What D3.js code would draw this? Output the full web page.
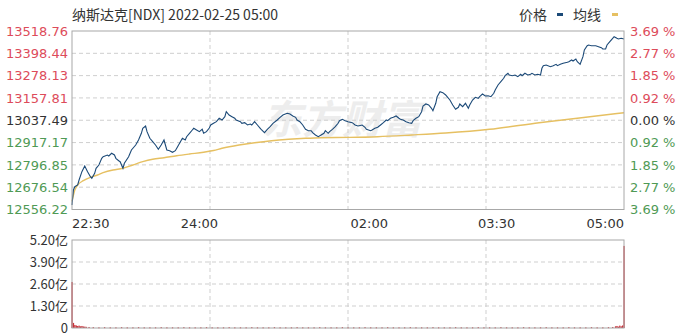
<!DOCTYPE html>
<html>
<head>
<meta charset="utf-8">
<script src="https://cdn.jsdelivr.net/npm/d3@7"></script>
<style>
  body { margin: 0; background: #fff; }
  svg { display: block; font-family: "Noto Sans CJK SC", "Noto Sans", sans-serif; }
</style>
</head>
<body>
<svg id="chart" width="687" height="336"></svg>
<script>
// ---- data ----
const title = "纳斯达克[NDX] 2022-02-25 05:00";
const prevClose = 13037.49;
const priceTicks = [13518.76, 13398.44, 13278.13, 13157.81, 13037.49, 12917.17, 12796.85, 12676.54, 12556.22];
const pctTicks = ["3.69%", "2.77%", "1.85%", "0.92%", "0.00%", "0.92%", "1.85%", "2.77%", "3.69%"];
const timeLabels = ["22:30", "24:00", "02:00", "03:30", "05:00"];
const timeLabelMinutes = [0, 90, 210, 300, 390];
const volTicks = [5.2, 3.9, 2.6, 1.3, 0];
const volTickLabels = ["5.20亿", "3.90亿", "2.60亿", "1.30亿", "0"];

// [minute after 22:30, price]
const price = [
  [0,12580.5],[1,12661.4],[2,12679.2],[4,12688.4],[5,12715.3],[7,12760.1],[9,12790.8],[11,12760.1],
  [13,12733.1],[14,12724.5],[16,12751.5],[17,12778.4],[19,12796.2],[21,12832.3],[22,12841.0],[25,12850.1],
  [26,12844.7],[28,12859.3],[30,12850.1],[31,12832.3],[33,12819.4],[34,12814.0],[36,12778.4],[37,12805.4],
  [40,12841.0],[42,12877.1],[45,12904.1],[47,12931.0],[49,12967.2],[50,12994.1],[52,13006.5],[53,12975.8],
  [55,12940.2],[57,12921.9],[59,12904.1],[61,12880.9],[63,12904.1],[65,12931.0],[66,12904.1],[67,12877.1],
  [69,12873.3],[71,12864.7],[73,12873.3],[74,12886.3],[76,12913.2],[78,12940.2],[80,12931.0],[81,12948.8],
  [83,12967.2],[85,12985.0],[86,12994.1],[88,12985.0],[90,12975.8],[92,12988.7],[93,12967.2],[95,12975.8],
  [97,12995.7],[98,13011.9],[100,13021.1],[102,13029.7],[104,13048.0],[106,13038.9],[108,13056.7],[109,13083.6],
  [111,13065.8],[113,13056.7],[115,13048.0],[116,13038.9],[119,13029.7],[120,13021.1],[122,13024.3],[124,13011.9],
  [126,13017.3],[127,13011.9],[129,13029.7],[131,13011.9],[133,12994.1],[134,12985.0],[136,12970.4],[138,12988.7],
  [140,13002.7],[142,13021.1],[145,13038.9],[147,13053.4],[149,13065.8],[152,13075.0],[154,13071.2],[156,13060.4],
  [158,13053.4],[159,13038.9],[161,13029.7],[163,13011.9],[165,12988.7],[167,12981.2],[169,12981.2],[170,12970.4],
  [172,12958.0],[174,12948.8],[176,12958.0],[178,12967.2],[179,12981.2],[181,12967.2],[182,12975.8],[184,12988.7],
  [186,13002.7],[188,13021.1],[189,13035.1],[191,13042.7],[193,13035.1],[195,13029.7],[198,13024.3],[200,13011.9],
  [202,13006.5],[205,13011.9],[207,12999.5],[208,12988.7],[211,12981.2],[212,12985.0],[214,12994.1],[216,12999.5],
  [218,13011.9],[220,13024.3],[222,13038.9],[223,13035.1],[225,13048.0],[227,13053.4],[229,13060.4],[231,13048.0],
  [232,13042.7],[234,13038.9],[236,13029.7],[238,13024.3],[240,13021.1],[241,13035.1],[243,13048.0],[245,13056.7],
  [247,13083.6],[248,13114.4],[250,13125.2],[252,13119.8],[254,13102.0],[255,13089.0],[257,13128.9],[258,13164.5],
  [260,13191.5],[262,13186.1],[264,13173.7],[265,13164.5],[267,13146.7],[269,13119.8],[271,13096.6],[273,13107.4],
  [274,13125.2],[276,13110.6],[278,13128.9],[280,13102.0],[281,13119.8],[283,13146.7],[285,13161.3],[287,13155.9],
  [288,13164.5],[290,13179.1],[292,13168.3],[294,13169.9],[296,13164.5],[298,13182.9],[299,13200.6],[301,13227.6],
  [303,13245.4],[305,13263.7],[306,13277.8],[308,13290.7],[309,13281.5],[311,13277.8],[313,13281.5],[315,13272.4],
  [317,13285.3],[318,13277.8],[320,13290.7],[322,13281.5],[324,13285.3],[325,13290.7],[327,13281.5],[329,13285.3],
  [331,13281.5],[332,13317.7],[333,13331.7],[335,13335.5],[338,13326.3],[340,13331.7],[342,13339.2],[343,13331.7],
  [345,13339.2],[347,13344.6],[350,13350.0],[351,13353.3],[353,13362.4],[354,13357.0],[356,13367.8],[357,13353.3],
  [359,13339.2],[361,13380.2],[362,13416.3],[364,13439.5],[365,13443.3],[367,13439.5],[370,13439.5],[372,13434.1],
  [374,13428.7],[375,13421.7],[377,13421.7],[378,13443.3],[380,13461.1],[382,13479.4],[383,13488.1],[385,13479.4],
  [386,13475.7],[388,13479.4],[390,13475.7]
];

// [minute, average price]
const avgLine = [
  [0,12600.0],[2,12661.4],[4,12688.4],[8,12711.6],[13,12729.9],[18,12742.3],[22,12754.7],[29,12769.3],
  [36,12778.4],[43,12796.2],[50,12814.0],[57,12827.0],[65,12835.6],[74,12846.4],[83,12855.5],[93,12864.7],
  [100,12874.4],[106,12886.3],[118,12904.1],[129,12916.5],[141,12927.3],[153,12934.8],[165,12940.2],[176,12943.4],
  [196,12945.0],[216,12948.8],[240,12958.0],[264,12968.6],[295,12988.7],[330,13024.3],[360,13051.3],[390,13078.2]
];

// [minute, volume in 亿]
const volume = [
  [0,2.72],[1,0.30],[2,0.18],[3,0.15],[4,0.12],[5,0.14],[6,0.10],[7,0.12],[8,0.09],[9,0.08],[10,0.07],[12,0.06],
  [15,0.05],[19,0.04],[23,0.05],[27,0.04],[31,0.04],[35,0.05],[39,0.04],[43,0.04],[47,0.05],[51,0.04],[55,0.04],
  [59,0.04],[63,0.05],[67,0.04],[71,0.04],[75,0.04],[79,0.05],[83,0.04],[87,0.04],[91,0.04],[95,0.05],[99,0.04],
  [103,0.04],[107,0.04],[111,0.05],[115,0.04],[119,0.04],[123,0.04],[127,0.05],[131,0.04],[135,0.04],[139,0.04],
  [143,0.05],[147,0.04],[151,0.04],[155,0.04],[159,0.05],[163,0.04],[167,0.04],[171,0.04],[175,0.05],[179,0.04],
  [183,0.04],[187,0.04],[191,0.05],[195,0.04],[199,0.04],[203,0.04],[207,0.05],[211,0.04],[215,0.04],[219,0.04],
  [223,0.05],[227,0.04],[231,0.04],[235,0.04],[239,0.05],[243,0.04],[247,0.04],[251,0.04],[255,0.05],[259,0.04],
  [263,0.04],[267,0.04],[271,0.05],[275,0.04],[279,0.04],[283,0.04],[287,0.05],[291,0.04],[295,0.04],[299,0.04],
  [303,0.05],[307,0.04],[311,0.04],[315,0.04],[319,0.05],[323,0.04],[327,0.04],[331,0.04],[335,0.05],[339,0.04],
  [343,0.04],[347,0.04],[351,0.05],[355,0.04],[359,0.04],[363,0.04],[367,0.05],[371,0.04],[375,0.04],[379,0.05],
  [382,0.06],[384,0.10],[385,0.12],[386,0.08],[387,0.14],[388,0.10],[389,0.15],[390,4.85]
];

// ---- layout ----
const svg = d3.select("#chart");
const left = 72, right = 624;
const mainTop = 31, mainBottom = 209.5;
const volTop = 240, volBottom = 328;
const red = "#dd4b5a", green = "#4f9a55", dark = "#333";
const gridColor = "#cfcfcf";
const numFont = "'DejaVu Sans', Verdana, sans-serif";

const x = d3.scaleLinear().domain([0, 390]).range([left, right]);
const y = d3.scaleLinear().domain([priceTicks[8], priceTicks[0]]).range([mainBottom, mainTop]);
const yv = d3.scaleLinear().domain([0, 5.2]).range([volBottom, volTop]);

// grid x positions split plot into quarters
const quarterMinutes = [97.5, 195, 292.5];

// watermark
svg.append("text")
  .attr("x", 262).attr("y", 134)
  .attr("font-size", 40).attr("font-weight", "bold")
  .attr("font-style", "italic")
  .attr("fill", "#ededed")
  .text("东方财富");

// main grid
svg.append("g").selectAll("line")
  .data(priceTicks.slice(1, 8))
  .join("line")
  .attr("x1", left).attr("x2", right)
  .attr("y1", d => y(d)).attr("y2", d => y(d))
  .attr("stroke", gridColor).attr("stroke-dasharray", "4,3");
svg.append("g").selectAll("line")
  .data(quarterMinutes)
  .join("line")
  .attr("x1", d => x(d)).attr("x2", d => x(d))
  .attr("y1", mainTop).attr("y2", mainBottom)
  .attr("stroke", gridColor).attr("stroke-dasharray", "4,3");

// lines
svg.append("path").datum(avgLine)
  .attr("d", d3.line().x(d => x(d[0])).y(d => y(d[1])).curve(d3.curveMonotoneX))
  .attr("fill", "none").attr("stroke", "#e6c062").attr("stroke-width", 1.4);
svg.append("path").datum(price)
  .attr("d", d3.line().x(d => x(d[0])).y(d => y(d[1])))
  .attr("fill", "none").attr("stroke", "#1c4a78").attr("stroke-width", 1.1);

svg.append("rect")
  .attr("x", left).attr("y", mainTop)
  .attr("width", right - left).attr("height", mainBottom - mainTop)
  .attr("fill", "none").attr("stroke", "#a8a8a8");

// left price labels
svg.append("g").selectAll("text")
  .data(priceTicks)
  .join("text")
  .attr("x", left - 4).attr("y", d => y(d))
  .attr("dy", "0.36em").attr("text-anchor", "end")
  .attr("font-size", 13).attr("font-family", numFont)
  .attr("fill", d => d > prevClose ? red : d < prevClose ? green : dark)
  .text(d => d.toFixed(2));

// right percent labels
svg.append("g").selectAll("text")
  .data(pctTicks)
  .join("text")
  .attr("x", right + 6).attr("y", (d, i) => y(priceTicks[i]))
  .attr("dy", "0.36em")
  .attr("font-size", 13).attr("font-family", numFont)
  .attr("fill", (d, i) => i < 4 ? red : i > 4 ? green : dark)
  .text(d => d.replace("%", " %"));

// time labels
svg.append("g").selectAll("text")
  .data(timeLabels)
  .join("text")
  .attr("x", (d, i) => x(timeLabelMinutes[i]))
  .attr("y", 228)
  .attr("text-anchor", (d, i) => i === 0 ? "start" : i === timeLabels.length - 1 ? "end" : "middle")
  .attr("font-size", 13).attr("font-family", numFont).attr("fill", dark)
  .text(d => d);

// volume grid
svg.append("g").selectAll("line")
  .data(volTicks.slice(1, 4))
  .join("line")
  .attr("x1", left).attr("x2", right)
  .attr("y1", d => yv(d)).attr("y2", d => yv(d))
  .attr("stroke", gridColor).attr("stroke-dasharray", "4,3");
svg.append("g").selectAll("line")
  .data(quarterMinutes)
  .join("line")
  .attr("x1", d => x(d)).attr("x2", d => x(d))
  .attr("y1", volTop).attr("y2", volBottom)
  .attr("stroke", gridColor).attr("stroke-dasharray", "4,3");

// volume bars
svg.append("g").selectAll("rect")
  .data(volume)
  .join("rect")
  .attr("x", d => x(d[0]) - 0.6)
  .attr("width", 1.3)
  .attr("y", d => yv(d[1]))
  .attr("height", d => Math.max(1, volBottom - yv(d[1])))
  .attr("fill", "#c8323a");

svg.append("rect")
  .attr("x", left).attr("y", volTop)
  .attr("width", right - left).attr("height", volBottom - volTop)
  .attr("fill", "none").attr("stroke", "#a8a8a8");

svg.append("g").selectAll("text")
  .data(volTicks)
  .join("text")
  .attr("x", left - 4).attr("y", d => yv(d))
  .attr("dy", "0.36em").attr("text-anchor", "end")
  .attr("font-size", 13).attr("fill", dark)
  .text((d, i) => volTickLabels[i]);

// title and legend
svg.append("text")
  .attr("x", left).attr("y", 20)
  .attr("font-size", 14).attr("fill", dark)
  .text(title);

const legend = svg.append("g").attr("font-size", 14).attr("fill", dark);
legend.append("text").attr("x", 519).attr("y", 20).text("价格");
legend.append("rect").attr("x", 557).attr("y", 13).attr("width", 6).attr("height", 3).attr("fill", "#1c4a78");
legend.append("text").attr("x", 573).attr("y", 20).text("均线");
legend.append("rect").attr("x", 612).attr("y", 13).attr("width", 6).attr("height", 3).attr("fill", "#e6c062");
</script>
</body>
</html>
